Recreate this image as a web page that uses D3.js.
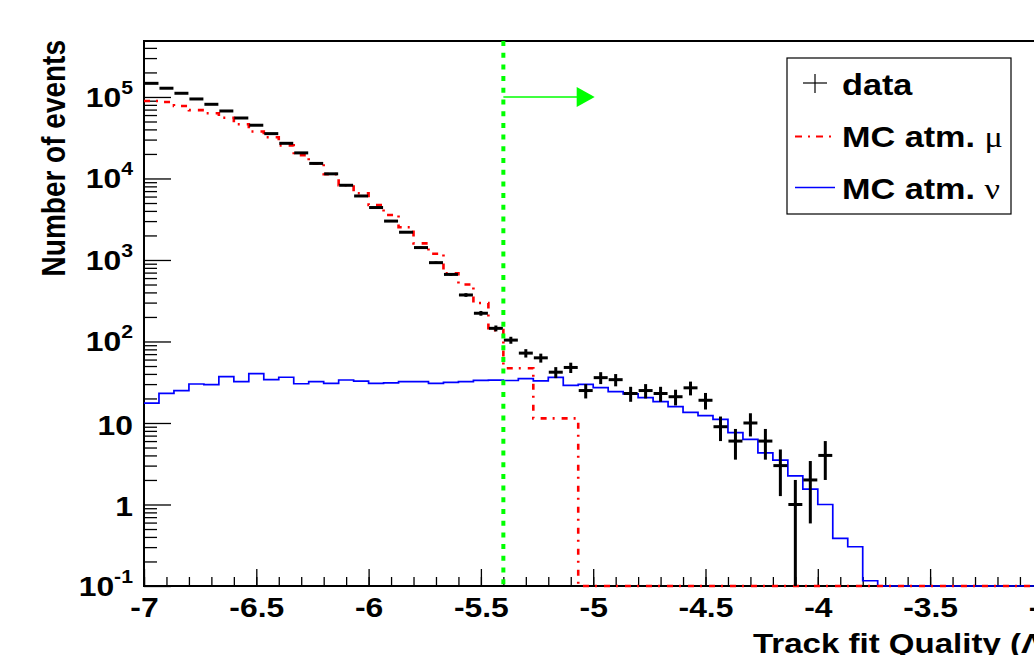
<!DOCTYPE html>
<html>
<head>
<meta charset="utf-8">
<script src="https://cdn.jsdelivr.net/npm/d3@7"></script>
<style>
  body { margin: 0; background: #fff; }
  text { font-family: "Liberation Sans", Arial, sans-serif; font-weight: bold; fill: #000; }
</style>
</head>
<body>
<svg id="chart" width="1034" height="655"></svg>
<script>
// histogram: 60 bins from -7 to -3
const xMin = -7, xMax = -3, nBins = 60;

// data counts per bin (0 = empty bin, not drawn)
const dataCounts = [147000, 128000, 111000, 94500, 81300, 67300, 55200, 45000, 35500, 27000,
  20600, 15300, 11400, 8250, 6100, 4400, 3000, 2190, 1420, 927,
  665, 372, 222, 145, 104, 72, 63, 42, 48, 25,
  36, 34, 23, 25, 23, 21, 27, 19, 9, 6,
  10, 6, 3, 1, 2, 4, 0, 0, 0, 0,
  0, 0, 0, 0, 0, 0, 0, 0, 0, 0];

// MC atm. mu
const muCounts = [89300, 86900, 77600, 69000, 63000, 55700, 46300, 37700, 32000, 25500,
  19300, 15300, 11300, 8250, 6600, 4730, 3570, 2520, 1600, 1190,
  687, 500, 297, 138, 47, 47, 11.4, 11.4, 11.4, 0,
  0, 0, 0, 0, 0, 0, 0, 0, 0, 0,
  0, 0, 0, 0, 0, 0, 0, 0, 0, 0,
  0, 0, 0, 0, 0, 0, 0, 0, 0, 0];

// MC atm. nu
const nuCounts = [17.5, 23.1, 24.9, 30.1, 29.6, 37, 32.1, 40.3, 34, 36.4,
  30.3, 32.1, 30.6, 33.7, 32.7, 30.6, 31, 32.1, 32.1, 30.6,
  31.5, 32.1, 33.4, 33.6, 33.2, 35, 32.9, 36.3, 29, 29.7,
  27.1, 24.2, 22.7, 20.5, 18.3, 15.9, 13.5, 12.3, 11.1, 7.6,
  6.3, 4.3, 3.5, 2.24, 1.54, 1.0, 0.385, 0.303, 0.116, 0,
  0, 0, 0, 0, 0, 0, 0, 0, 0, 0];

const xTicks = [-7, -6.5, -6, -5.5, -5, -4.5, -4, -3.5, -3];
const yTicks = [0.1, 1, 10, 100, 1000, 10000, 100000];
const yMin = 0.1, yMax = 486000;
const cutValue = -5.4, arrowEnd = -5.0, arrowLevel = 1e5;
const legendLabels = ['data', 'MC atm. ', 'MC atm. '];
const legendGreek = ['', '\u03bc', '\u03bd'];

const svg = d3.select('#chart');
const padL = 144, padR = 1042.4, padT = 41, padB = 586;
const sx = 1.18; // the glyphs in the original are a bit wider than they are tall

let x = d3.scaleLinear().domain([xMin, xMax]).range([padL, padR]);
let y = d3.scaleLog().domain([yMin, yMax]).range([padB, padT]);

const edges = d3.range(nBins + 1).map(i => xMin + i * (xMax - xMin) / nBins);
const clampY = v => Math.max(v, yMin);

// frame
svg.append('rect')
  .attr('x', padL).attr('y', padT)
  .attr('width', padR - padL).attr('height', padB - padT)
  .attr('fill', 'none').attr('stroke', '#000').attr('stroke-width', 2);

// x axis ticks
let xMinor = d3.range(0, 41).map(i => xMin + i * 0.1);
svg.append('g')
  .attr('transform', `translate(0,${padB})`)
  .call(d3.axisBottom(x).tickValues(xMinor).tickSize(-9).tickFormat(''))
  .call(g => g.select('.domain').remove());
svg.append('g')
  .attr('class', 'xaxis')
  .attr('transform', `translate(0,${padB})`)
  .call(d3.axisBottom(x).tickValues(xTicks).tickSize(-17).tickPadding(12).tickFormat(d => String(d)))
  .call(g => g.select('.domain').remove());
svg.selectAll('.xaxis text')
  .attr('font-size', 27)
  .attr('font-family', '"Liberation Sans", Arial, sans-serif')
  .attr('font-weight', 'bold')
  .attr('transform', `scale(${sx},1)`);

// y axis ticks
let yMinor = [];
for (let k = -1; k <= 5; k++) {
  for (let m = 2; m <= 9; m++) {
    let v = m * Math.pow(10, k);
    if (v < yMax) yMinor.push(v);
  }
}
svg.append('g')
  .attr('transform', `translate(${padL},0)`)
  .call(d3.axisLeft(y).tickValues(yMinor).tickSize(-13).tickFormat(''))
  .call(g => g.select('.domain').remove());
svg.append('g')
  .attr('transform', `translate(${padL},0)`)
  .call(d3.axisLeft(y).tickValues(yTicks).tickSize(-27).tickFormat(''))
  .call(g => g.select('.domain').remove());
svg.selectAll('.tick line').attr('stroke', '#000').attr('stroke-width', 1.3);

// y labels 10^n
let yLab = svg.append('g').selectAll('text')
  .data(yTicks)
  .join('text')
  .attr('transform', d => `translate(133,${(d === 1 || d === 10) ? y(d) + 12 : y(d) + 10}) scale(${sx},1)`)
  .attr('text-anchor', 'end')
  .attr('font-size', 27);
yLab.append('tspan').text(d => d === 1 ? '1' : '10');
yLab.filter(d => d !== 1 && d !== 10)
  .append('tspan')
  .attr('dy', -13)
  .attr('font-size', 18)
  .text(d => String(Math.round(Math.log10(d))));

// axis titles
svg.append('text')
  .attr('transform', `translate(65,40) scale(${sx},1) rotate(-90)`)
  .attr('text-anchor', 'end')
  .attr('font-size', 28)
  .text('Number of events');
svg.append('text')
  .attr('transform', `translate(753,653) scale(${sx},1)`)
  .attr('font-size', 28)
  .text('Track fit Quality (\u039b)');

// step outline of a histogram
function stepPath(vals) {
  let pts = vals.map((v, i) => [edges[i], clampY(v)]);
  pts.push([edges[nBins], clampY(vals[nBins - 1])]);
  return d3.line().x(d => x(d[0])).y(d => y(d[1])).curve(d3.curveStepAfter)(pts);
}

svg.append('path')
  .attr('d', stepPath(nuCounts))
  .attr('fill', 'none').attr('stroke', '#0000ff').attr('stroke-width', 1.7);

svg.append('path')
  .attr('d', stepPath(muCounts))
  .attr('fill', 'none').attr('stroke', '#ff0000').attr('stroke-width', 2.6)
  .attr('stroke-dasharray', '6,6,2,7');

// data points with errors
let pts = dataCounts.map((n, i) => ({ n: n, lo: edges[i], hi: edges[i + 1] })).filter(d => d.n > 0);
let dg = svg.append('g').attr('stroke', '#000').attr('stroke-width', 3);
dg.selectAll('.hbar')
  .data(pts)
  .join('line')
  .attr('x1', d => x(d.lo) + 0.5).attr('x2', d => x(d.hi) - 0.5)
  .attr('y1', d => y(d.n)).attr('y2', d => y(d.n));
dg.selectAll('.vbar')
  .data(pts)
  .join('line')
  .attr('x1', d => x((d.lo + d.hi) / 2)).attr('x2', d => x((d.lo + d.hi) / 2))
  .attr('y1', d => y(clampY(d.n - Math.sqrt(d.n))))
  .attr('y2', d => y(d.n + Math.sqrt(d.n)));

// cut line and arrow
svg.append('line')
  .attr('x1', x(cutValue)).attr('x2', x(cutValue))
  .attr('y1', padT).attr('y2', padB)
  .attr('stroke', '#00ff00').attr('stroke-width', 4)
  .attr('stroke-dasharray', '5,6.7');
let ax = x(arrowEnd) + 1.5, ay = y(arrowLevel);
svg.append('line')
  .attr('x1', x(cutValue)).attr('x2', ax - 17)
  .attr('y1', ay).attr('y2', ay)
  .attr('stroke', '#00ff00').attr('stroke-width', 1.5);
svg.append('path')
  .attr('d', `M${ax},${ay}L${ax - 18},${ay - 10}L${ax - 18},${ay + 10}Z`)
  .attr('fill', '#00ff00');

// legend
svg.append('rect')
  .attr('x', 787).attr('y', 58).attr('width', 224).attr('height', 156)
  .attr('fill', '#fff').attr('stroke', '#000').attr('stroke-width', 1.2);
let baselines = [95, 147, 199];
let lt = svg.append('g').selectAll('text')
  .data(legendLabels)
  .join('text')
  .attr('transform', (d, i) => `translate(842,${baselines[i]}) scale(${sx},1)`)
  .attr('font-size', 29);
lt.append('tspan').text(d => d);
lt.append('tspan')
  .attr('font-family', '"Liberation Serif", serif')
  .attr('font-weight', 'normal')
  .text((d, i) => legendGreek[i]);

svg.append('line').attr('x1', 803).attr('x2', 827).attr('y1', 83).attr('y2', 83)
  .attr('stroke', '#000').attr('stroke-width', 1.2);
svg.append('line').attr('x1', 815).attr('x2', 815).attr('y1', 74).attr('y2', 93)
  .attr('stroke', '#000').attr('stroke-width', 1.2);
svg.append('line').attr('x1', 795).attr('x2', 835).attr('y1', 136.5).attr('y2', 136.5)
  .attr('stroke', '#ff0000').attr('stroke-width', 2).attr('stroke-dasharray', '7,6,2,6');
svg.append('line').attr('x1', 795).attr('x2', 835).attr('y1', 187.5).attr('y2', 187.5)
  .attr('stroke', '#0000ff').attr('stroke-width', 1.5);
</script>
</body>
</html>
